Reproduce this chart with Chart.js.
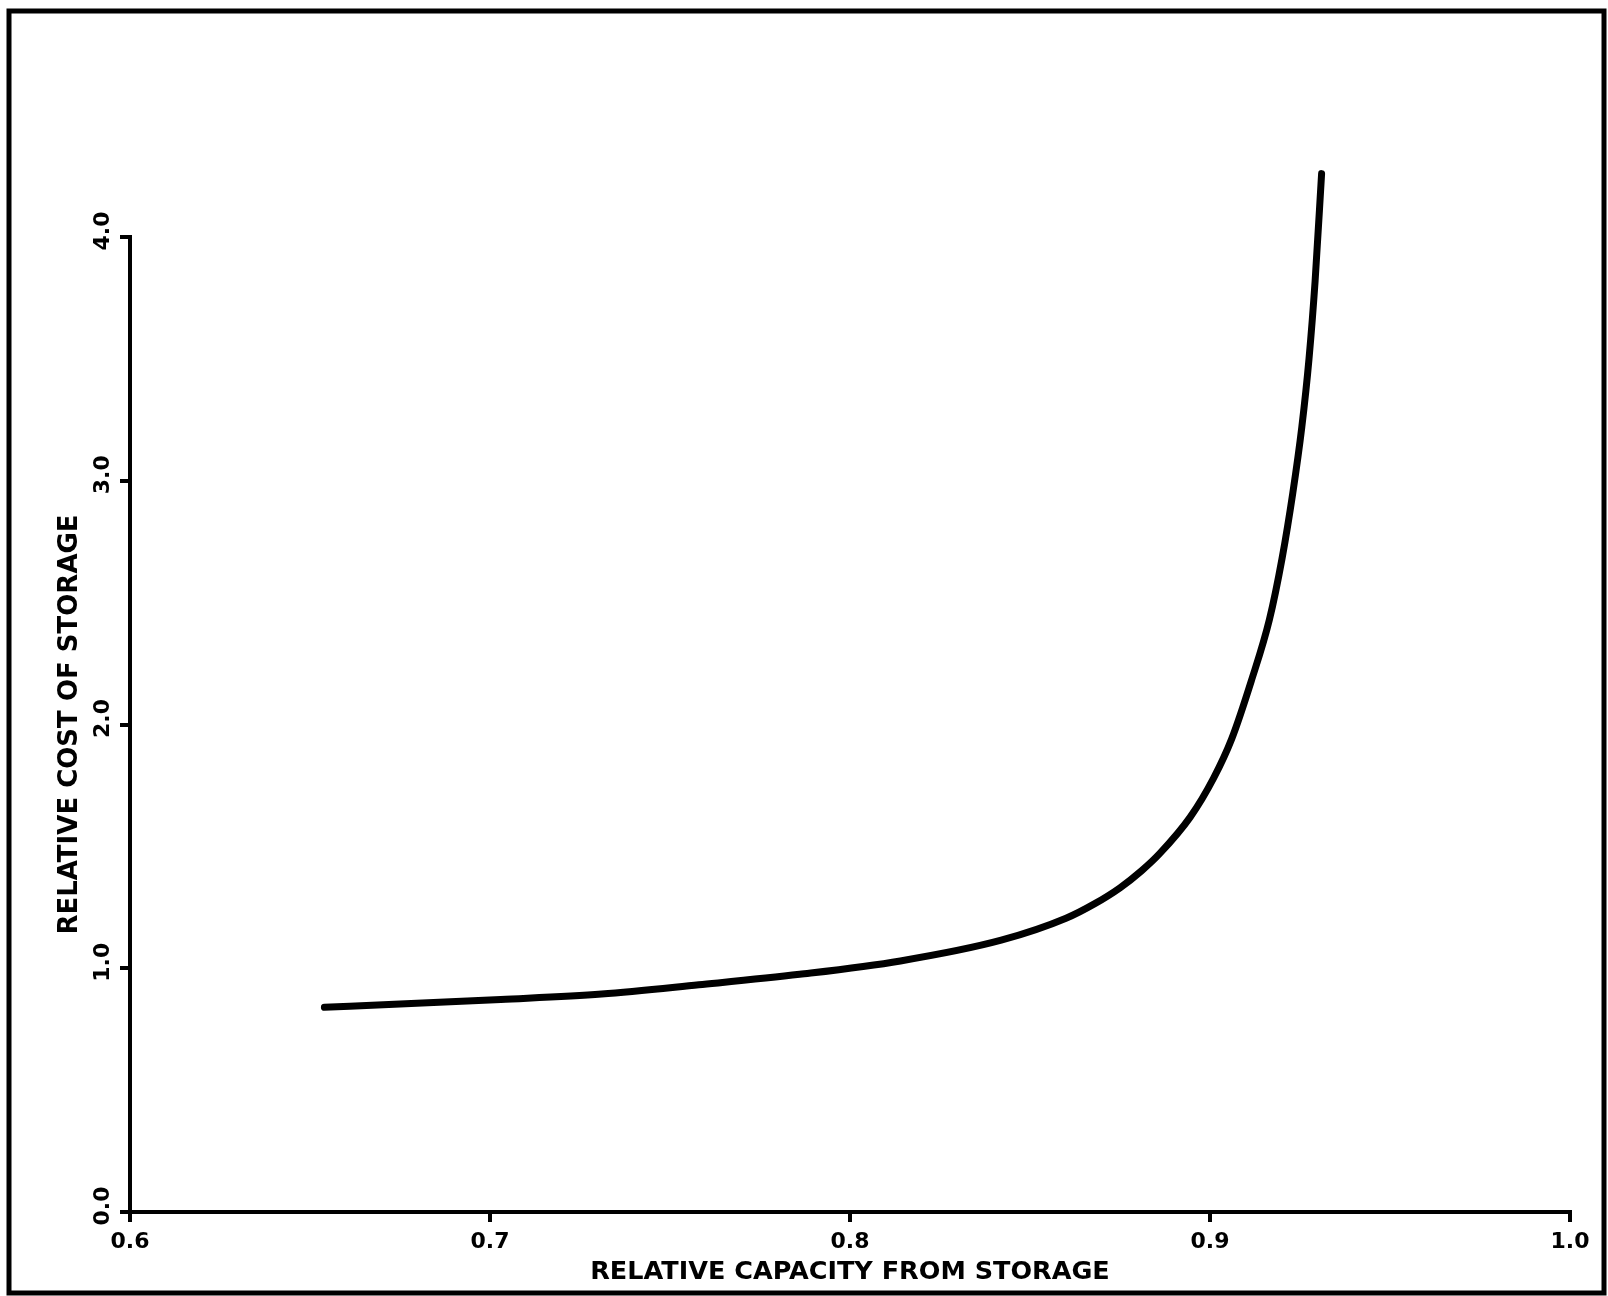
<!DOCTYPE html>
<html>
<head>
<meta charset="utf-8">
<script src="https://cdn.jsdelivr.net/npm/chart.js@4.4.1/dist/chart.umd.min.js"></script>
<style>
  html, body { margin: 0; padding: 0; background: #fff; }
  #wrap { width: 1608px; height: 1296px; }
</style>
</head>
<body>
<div id="wrap"><canvas id="storageChart" width="1608" height="1296"></canvas></div>
<script>
// values
const capacity = [0.654, 0.675, 0.703, 0.731, 0.758, 0.786, 0.814, 0.842, 0.860, 0.868,
                  0.875, 0.881, 0.886, 0.8945, 0.901, 0.906, 0.9115, 0.9165, 0.920, 0.923,
                  0.9255, 0.9275, 0.9292, 0.931];
const cost = [0.840, 0.853, 0.872, 0.894, 0.932, 0.975, 1.03, 1.115, 1.205, 1.265,
              1.33, 1.40, 1.47, 1.62, 1.78, 1.94, 2.18, 2.43, 2.68, 2.95,
              3.22, 3.50, 3.82, 4.26];
const xTicks = [0.6, 0.7, 0.8, 0.9, 1.0];
const yTicks = [0.0, 1.0, 2.0, 3.0, 4.0];

const points = capacity.map((c, i) => ({ x: c, y: cost[i] }));

// frame around the whole figure + rotated y tick labels
const framePlugin = {
    id: 'frame',
    beforeDraw(chart) {
        const ctx = chart.ctx;
        ctx.save();
        ctx.fillStyle = '#fff';
        ctx.fillRect(0, 0, chart.width, chart.height);
        ctx.restore();
    },
    afterDraw(chart) {
        const ctx = chart.ctx;
        ctx.save();
        ctx.strokeStyle = '#000';
        ctx.lineWidth = 5;
        ctx.strokeRect(9, 11, 1595, 1282);

        const yScale = chart.scales.y;
        ctx.fillStyle = '#000';
        ctx.font = 'bold 22px "DejaVu Sans"';
        ctx.textAlign = 'center';
        ctx.textBaseline = 'middle';
        yTicks.forEach(v => {
            const py = yScale.getPixelForValue(v);
            ctx.save();
            ctx.translate(103, py - 6);
            ctx.rotate(-Math.PI / 2);
            ctx.fillText(v.toFixed(1), 0, 0);
            ctx.restore();
        });
        ctx.restore();
    }
};

new Chart(document.getElementById('storageChart').getContext('2d'), {
    type: 'scatter',
    data: {
        datasets: [{
            data: points,
            showLine: true,
            borderColor: '#000',
            borderWidth: 7,
            borderCapStyle: 'round',
            pointRadius: 0,
            cubicInterpolationMode: 'monotone',
            clip: false
        }]
    },
    options: {
        responsive: false,
        animation: false,
        layout: {
            padding: { top: 237, right: 38, bottom: 0, left: 0 }
        },
        plugins: {
            legend: { display: false },
            tooltip: { enabled: false }
        },
        scales: {
            x: {
                type: 'linear',
                min: 0.6,
                max: 1.0,
                afterBuildTicks: (scale) => { scale.ticks = xTicks.map(v => ({ value: v })); },
                afterFit: (scale) => { scale.height = 84; },
                border: { color: '#000', width: 4 },
                grid: { drawOnChartArea: false, color: '#000', lineWidth: 4, tickLength: 10 },
                ticks: {
                    color: '#000',
                    padding: 7,
                    maxRotation: 0,
                    font: { family: 'DejaVu Sans', size: 22, weight: 'bold' },
                    callback: (v) => Number(v).toFixed(1)
                },
                title: {
                    display: true,
                    text: 'RELATIVE CAPACITY FROM STORAGE',
                    color: '#000',
                    font: { family: 'DejaVu Sans', size: 25.5, weight: 'bold' },
                    padding: { top: 0, bottom: 8 }
                }
            },
            y: {
                type: 'linear',
                min: 0,
                max: 4.0,
                afterBuildTicks: (scale) => { scale.ticks = yTicks.map(v => ({ value: v })); },
                afterFit: (scale) => { scale.width = 130; },
                border: { color: '#000', width: 4 },
                grid: { drawOnChartArea: false, color: '#000', lineWidth: 4, tickLength: 10 },
                ticks: {
                    color: 'rgba(0,0,0,0)',
                    font: { family: 'DejaVu Sans', size: 20, weight: 'bold' }
                },
                title: {
                    display: true,
                    text: 'RELATIVE COST OF STORAGE',
                    color: '#000',
                    font: { family: 'DejaVu Sans', size: 26, weight: 'bold' },
                    padding: { top: 55, bottom: 0 }
                }
            }
        }
    },
    plugins: [framePlugin]
});
</script>
</body>
</html>
